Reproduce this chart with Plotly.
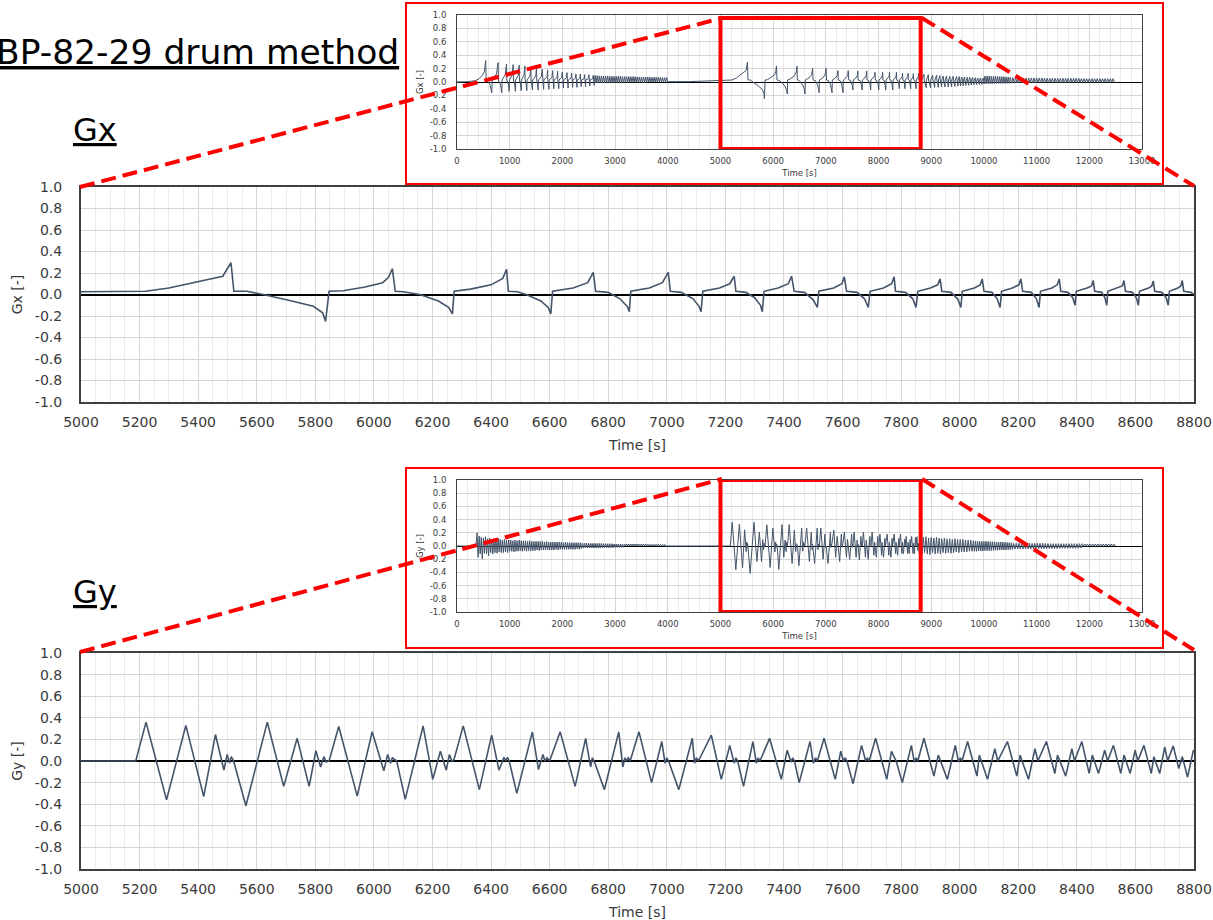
import plotly.graph_objects as go

# ---------------- data ----------------
big_x_ticks = [5000, 5200, 5400, 5600, 5800, 6000, 6200, 6400, 6600, 6800, 7000,
               7200, 7400, 7600, 7800, 8000, 8200, 8400, 8600, 8800]
ov_x_ticks = [0, 1000, 2000, 3000, 4000, 5000, 6000, 7000, 8000, 9000, 10000,
              11000, 12000, 13000]
y_ticks = [-1.0, -0.8, -0.6, -0.4, -0.2, 0.0, 0.2, 0.4, 0.6, 0.8, 1.0]
y_tick_text = ["-1.0", "-0.8", "-0.6", "-0.4", "-0.2", "0.0", "0.2", "0.4", "0.6", "0.8", "1.0"]

# Gx, detail 5000-8800 s
gx_zoom_t = [5000, 5220, 5300, 5383, 5484, 5512, 5522, 5566, 5622, 5720, 5793, 5825, 5835,
             5847, 5895, 5970, 6030, 6050, 6063, 6073, 6100, 6157, 6220, 6255, 6268,
             6274, 6330, 6400, 6440, 6453, 6459, 6490, 6520, 6570, 6595, 6604,
             6610, 6680, 6730, 6749, 6757, 6800, 6840, 6865, 6872,
             6877, 6940, 6985, 7005, 7012, 7050, 7090, 7110, 7117,
             7123, 7180, 7215, 7230, 7236, 7270, 7300, 7320, 7326,
             7332, 7380, 7415, 7426, 7435, 7470, 7500, 7514,
             7519, 7570, 7598, 7606, 7614, 7650, 7675, 7688,
             7694, 7740, 7768, 7776, 7781, 7815, 7840, 7851,
             7857, 7900, 7925, 7933, 7939, 7970, 7993, 8004,
             8009, 8050, 8070, 8077, 8083, 8110, 8128, 8138,
             8143, 8180, 8202, 8209, 8215, 8245, 8262, 8271,
             8276, 8315, 8333, 8340, 8345, 8370, 8386, 8394,
             8398, 8435, 8450, 8456, 8461, 8485, 8496, 8502,
             8506, 8540, 8555, 8561, 8566, 8590, 8603, 8610,
             8614, 8645, 8656, 8661, 8666, 8690, 8705, 8712,
             8716, 8745, 8755, 8760, 8765, 8790, 8800]
gx_zoom_v = [0.025, 0.03, 0.06, 0.11, 0.17, 0.295, 0.03, 0.03, 0.0, -0.06, -0.11, -0.17, -0.25,
             0.03, 0.035, 0.07, 0.11, 0.16, 0.24, 0.03, 0.025, 0.0, -0.06, -0.12, -0.18,
             0.03, 0.05, 0.09, 0.15, 0.235, 0.03, 0.025, 0.0, -0.06, -0.12, -0.18,
             0.03, 0.06, 0.11, 0.205, 0.03, 0.02, -0.04, -0.11, -0.16,
             0.03, 0.06, 0.11, 0.205, 0.03, 0.02, -0.04, -0.11, -0.16,
             0.03, 0.06, 0.1, 0.17, 0.03, 0.02, -0.03, -0.1, -0.16,
             0.03, 0.06, 0.1, 0.17, 0.03, 0.02, -0.05, -0.12,
             0.03, 0.06, 0.1, 0.165, 0.03, 0.02, -0.04, -0.12,
             0.03, 0.06, 0.1, 0.165, 0.03, 0.02, -0.04, -0.12,
             0.03, 0.06, 0.09, 0.145, 0.03, 0.02, -0.04, -0.12,
             0.03, 0.06, 0.09, 0.145, 0.03, 0.02, -0.04, -0.12,
             0.03, 0.06, 0.09, 0.145, 0.03, 0.02, -0.04, -0.12,
             0.03, 0.06, 0.09, 0.145, 0.03, 0.02, -0.03, -0.1,
             0.03, 0.06, 0.08, 0.13, 0.03, 0.02, -0.03, -0.1,
             0.03, 0.06, 0.08, 0.13, 0.03, 0.02, -0.03, -0.1,
             0.03, 0.06, 0.08, 0.125, 0.03, 0.02, -0.03, -0.1,
             0.03, 0.06, 0.08, 0.13, 0.03, 0.02, 0.0]

# Gy, detail 5000-8800 s
gy_zoom_t = [5000, 5187, 5222, 5292, 5358, 5419, 5459, 5488, 5499, 5507, 5513, 5521,
             5563, 5636, 5692, 5738, 5779, 5802, 5818, 5829, 5837, 5847,
             5880, 5943, 5994, 6034, 6047, 6057, 6063, 6078,
             6107, 6168, 6201, 6227, 6247, 6258, 6266, 6273,
             6305, 6360, 6402, 6427, 6444, 6450, 6456, 6462,
             6488, 6541, 6562, 6577, 6584, 6591, 6600,
             6636, 6687, 6723, 6740, 6746, 6752,
             6787, 6836, 6850, 6857, 6862, 6869, 6875,
             6905, 6948, 6983, 6994, 7000, 7006,
             7041, 7087, 7095, 7101, 7108,
             7152, 7186, 7215, 7230, 7236, 7242,
             7262, 7294, 7306, 7312, 7318,
             7351, 7391, 7411, 7424, 7430, 7436,
             7452, 7489, 7500, 7508, 7514,
             7537, 7575, 7594, 7603, 7609, 7615,
             7636, 7665, 7679, 7685, 7691,
             7713, 7751, 7767, 7783,
             7804, 7835, 7845, 7851, 7857,
             7878, 7912, 7927, 7958, 7985, 7996, 8002, 8008,
             8027, 8059, 8067, 8095, 8120, 8130,
             8163, 8195, 8206, 8235, 8257, 8267,
             8296, 8325, 8334, 8362, 8383, 8392,
             8417, 8442, 8453, 8474, 8495, 8505,
             8525, 8550, 8561, 8582, 8599, 8608,
             8629, 8654, 8663, 8683, 8700, 8710,
             8729, 8748, 8760, 8778, 8798, 8800]
gy_zoom_v = [0.0, 0.0, 0.36, -0.36, 0.33, -0.33, 0.245, -0.085, 0.06, -0.02, 0.04, 0.0,
             -0.415, 0.36, -0.235, 0.21, -0.235, 0.095, -0.055, 0.04, -0.01, 0.0,
             0.32, -0.325, 0.27, -0.09, 0.06, -0.02, 0.03, 0.0,
             -0.355, 0.325, -0.17, 0.09, -0.085, 0.06, 0.0, 0.01,
             0.325, -0.265, 0.24, -0.085, 0.035, 0.0, 0.035, 0.0,
             -0.3, 0.27, -0.08, 0.06, 0.0, 0.03, 0.0,
             0.27, -0.235, 0.21, -0.055, 0.03, 0.0,
             -0.265, 0.27, -0.055, 0.03, 0.0, 0.03, 0.0,
             0.27, -0.2, 0.18, -0.02, 0.03, 0.0,
             -0.265, 0.21, -0.02, 0.03, 0.0,
             0.24, -0.17, 0.145, -0.02, 0.03, 0.0,
             -0.235, 0.18, -0.02, 0.03, 0.0,
             0.21, -0.17, 0.1, -0.01, 0.03, 0.0,
             -0.2, 0.18, -0.02, 0.03, 0.0,
             0.21, -0.17, 0.09, 0.0, 0.03, 0.0,
             -0.21, 0.145, 0.0, 0.03, 0.0,
             0.21, -0.17, 0.09, 0.0,
             -0.2, 0.145, -0.01, 0.03, 0.0,
             0.21, -0.14, 0.055, -0.17, 0.145, -0.01, 0.03, 0.0,
             0.18, -0.14, 0.055, -0.17, 0.115, 0.0,
             0.18, -0.14, 0.055, -0.17, 0.115, 0.0,
             0.18, -0.115, 0.055, -0.14, 0.115, 0.0,
             0.18, -0.115, 0.055, -0.115, 0.1, 0.0,
             0.145, -0.115, 0.055, -0.115, 0.1, 0.0,
             0.145, -0.115, 0.04, -0.115, 0.13, 0.0,
             0.14, -0.07, 0.04, -0.15, 0.1, 0.09]

# Gx, overview part 0-5000 s
gx_early_t = [0, 200, 350, 420, 480, 520, 545, 552, 590, 630, 660,
              668, 750, 780, 786, 825, 850,
              856, 915, 940, 945, 975, 990,
              995, 1045, 1066, 1071, 1095, 1108,
              1112, 1162, 1180, 1185, 1206, 1218,
              1222, 1272, 1288, 1293, 1313, 1325,
              1329, 1385, 1402, 1406, 1422, 1432,
              1436, 1494, 1510, 1514, 1530, 1540,
              1544, 1602, 1617, 1621, 1636, 1645,
              1649, 1707, 1720, 1724, 1737, 1745,
              1749, 1803, 1815, 1819, 1831, 1838,
              1842, 1898, 1910, 1914, 1925, 1932,
              1936, 1988, 1998, 2002, 2013, 2020,
              2024, 2077, 2086, 2090, 2101, 2108,
              2112, 2165, 2175, 2179, 2189, 2195,
              2199, 2248, 2257, 2261, 2271, 2277,
              2281, 2331, 2340, 2344, 2353, 2358,
              2362, 2413, 2422, 2426, 2435, 2440,
              2444, 2495, 2504, 2508, 2517, 2522,
              2526, 2577, 2585, 2589, 2597, 2603,
              2620, 2640, 2660, 2680, 2700, 2720, 2740, 2760, 2780, 2800,
              2820, 2840, 2860, 2880, 2900, 2920, 2940, 2960, 2980, 3000,
              3020, 3040, 3060, 3080, 3100, 3120, 3140, 3160, 3180, 3200,
              3220, 3240, 3260, 3280, 3300, 3320, 3340, 3360, 3380, 3400,
              3420, 3440, 3460, 3480, 3500, 3520, 3540, 3560, 3580, 3600,
              3620, 3640, 3660, 3680, 3700, 3720, 3740, 3760, 3780, 3800,
              3820, 3840, 3860, 3880, 3900, 3920, 3940, 3960, 3980,
              4000, 4400, 4800, 4990]
gx_early_v = [0.0, 0.005, 0.02, 0.05, 0.1, 0.16, 0.32, 0.03, 0.01, -0.05, -0.16,
              0.03, 0.12, 0.29, 0.03, -0.04, -0.16,
              0.03, 0.11, 0.27, 0.03, -0.03, -0.14,
              0.03, 0.1, 0.26, 0.03, -0.03, -0.14,
              0.03, 0.1, 0.25, 0.03, -0.03, -0.13,
              0.03, 0.1, 0.24, 0.03, -0.03, -0.13,
              0.03, 0.09, 0.22, 0.03, -0.03, -0.12,
              0.03, 0.09, 0.21, 0.03, -0.03, -0.12,
              0.03, 0.08, 0.19, 0.03, -0.03, -0.11,
              0.03, 0.08, 0.18, 0.03, -0.03, -0.11,
              0.03, 0.07, 0.17, 0.03, -0.03, -0.1,
              0.03, 0.07, 0.16, 0.03, -0.03, -0.1,
              0.03, 0.07, 0.15, 0.03, -0.02, -0.09,
              0.03, 0.06, 0.14, 0.03, -0.02, -0.09,
              0.03, 0.06, 0.13, 0.03, -0.02, -0.08,
              0.03, 0.06, 0.12, 0.03, -0.02, -0.08,
              0.03, 0.06, 0.12, 0.03, -0.02, -0.07,
              0.03, 0.05, 0.11, 0.03, -0.02, -0.07,
              0.03, 0.05, 0.11, 0.03, -0.02, -0.06,
              0.03, 0.05, 0.1, 0.03, -0.02, -0.05,
              0.095, -0.015, 0.095, -0.015, 0.09, -0.015, 0.09, -0.015, 0.09, -0.015,
              0.09, -0.01, 0.09, -0.01, 0.085, -0.01, 0.085, -0.01, 0.085, -0.01,
              0.085, -0.01, 0.085, -0.01, 0.085, -0.01, 0.08, -0.01, 0.08, -0.01,
              0.08, -0.01, 0.08, -0.005, 0.08, -0.005, 0.08, -0.005, 0.08, -0.005,
              0.075, -0.005, 0.075, -0.005, 0.075, -0.005, 0.075, -0.005, 0.075, -0.005,
              0.075, 0.0, 0.07, 0.0, 0.07, 0.0, 0.07, 0.0, 0.07, 0.0,
              0.07, 0.0, 0.07, 0.0, 0.065, 0.0, 0.065, 0.0, 0.065,
              0.005, 0.005, 0.012, 0.02]

# Gx, overview part 8800-12500 s
gx_late_t = [8863, 8867, 8905, 8908, 8945, 8949, 8987, 8990,
             9027, 9031, 9066, 9069, 9103, 9107, 9135, 9138,
             9166, 9170, 9198, 9201, 9229, 9233, 9261, 9264,
             9292, 9296, 9324, 9327, 9355, 9359, 9387, 9390,
             9418, 9422, 9450, 9453, 9482, 9486, 9507, 9510,
             9532, 9536, 9558, 9561, 9583, 9587, 9608, 9611,
             9633, 9637, 9659, 9662, 9684, 9688, 9710, 9713,
             9735, 9739, 9760, 9763, 9785, 9789, 9811, 9814,
             9836, 9840, 9862, 9865, 9887, 9891, 9912, 9915,
             9937, 9941, 9962, 9965, 9988, 9992, 10003, 10006,
             10020, 10040, 10060, 10080, 10100, 10120, 10140, 10160, 10180, 10200,
             10220, 10240, 10260, 10280, 10300, 10320, 10340, 10360, 10380, 10400,
             10420, 10440, 10460, 10480, 10500,
             10525, 10550, 10575, 10600, 10625, 10650, 10675, 10700, 10725, 10750,
             10775, 10800, 10825, 10850, 10875, 10900, 10925, 10950, 10975, 11000,
             11025, 11050, 11075, 11100, 11125, 11150, 11175, 11200, 11225, 11250,
             11275, 11300, 11325, 11350, 11375, 11400, 11425, 11450, 11475, 11500,
             11525, 11550, 11575, 11600, 11625, 11650, 11675, 11700, 11725, 11750,
             11775, 11800, 11825, 11850, 11875, 11900, 11925, 11950, 11975, 12000,
             12025, 12050, 12075, 12100, 12125, 12150, 12175, 12200, 12225, 12250,
             12275, 12300, 12325, 12350, 12375, 12400, 12425, 12450, 12475, 12490]
gx_late_v = [0.115, 0.03, -0.085, 0.03, 0.11, 0.03, -0.085, 0.03,
             0.1, 0.03, -0.08, 0.03, 0.1, 0.03, -0.08, 0.03,
             0.095, 0.03, -0.075, 0.03, 0.09, 0.03, -0.075, 0.03,
             0.09, 0.03, -0.07, 0.03, 0.085, 0.03, -0.07, 0.03,
             0.085, 0.03, -0.065, 0.03, 0.08, 0.03, -0.06, 0.03,
             0.08, 0.03, -0.06, 0.03, 0.075, 0.03, -0.055, 0.03,
             0.075, 0.03, -0.05, 0.03, 0.07, 0.03, -0.05, 0.03,
             0.07, 0.03, -0.045, 0.03, 0.065, 0.03, -0.04, 0.03,
             0.065, 0.03, -0.04, 0.03, 0.06, 0.03, -0.035, 0.03,
             0.06, 0.03, -0.035, 0.03, 0.06, 0.03, -0.03, 0.03,
             0.09, -0.025, 0.09, -0.025, 0.09, -0.025, 0.085, -0.025, 0.085, -0.025,
             0.085, -0.02, 0.085, -0.02, 0.08, -0.02, 0.08, -0.02, 0.08, -0.02,
             0.075, -0.02, 0.075, -0.02, 0.07,
             -0.015, 0.065, -0.015, 0.065, -0.015, 0.06, -0.015, 0.06, -0.015, 0.06,
             -0.015, 0.06, -0.015, 0.06, -0.015, 0.06, -0.015, 0.06, -0.015, 0.06,
             -0.01, 0.06, -0.01, 0.06, -0.01, 0.055, -0.01, 0.055, -0.01, 0.055,
             -0.01, 0.055, -0.01, 0.055, -0.01, 0.055, -0.01, 0.055, -0.01, 0.055,
             -0.01, 0.055, -0.01, 0.055, -0.01, 0.055, -0.01, 0.055, -0.01, 0.055,
             -0.005, 0.055, -0.005, 0.05, -0.005, 0.05, -0.005, 0.05, -0.005, 0.05,
             -0.005, 0.05, -0.005, 0.05, -0.005, 0.05, -0.005, 0.05, -0.005, 0.05,
             -0.005, 0.05, -0.005, 0.05, -0.005, 0.05, -0.005, 0.05, -0.005, 0.0]

# Gy, overview part 0-5000 s
gy_early_t = [0, 360,
              380, 400, 420, 440, 460, 480, 500, 520, 540, 560,
              580, 600, 620, 640, 660, 680, 700, 720, 740, 760,
              780, 800, 820, 840, 860, 880, 900, 920, 940, 960,
              980, 1000,
              1020, 1040, 1060, 1080, 1100, 1120, 1140, 1160, 1180, 1200,
              1220, 1240, 1260, 1280, 1300, 1320, 1340, 1360, 1380, 1400,
              1420, 1440, 1460, 1480, 1500, 1520, 1540, 1560, 1580, 1600,
              1620, 1640, 1660, 1680, 1700, 1720, 1740, 1760, 1780, 1800,
              1820, 1840, 1860, 1880, 1900, 1920, 1940, 1960, 1980, 2000,
              2020, 2040, 2060, 2080, 2100, 2120, 2140, 2160, 2180, 2200,
              2220, 2240, 2260, 2280, 2300, 2320, 2340, 2360,
              2380, 2400, 2420, 2440, 2460, 2480, 2500, 2520, 2540, 2560,
              2580, 2600, 2620, 2640, 2660, 2680, 2700, 2720, 2740, 2760,
              2780, 2800, 2820, 2840, 2860, 2880, 2900, 2920, 2940, 2960,
              2980, 3000, 3020, 3040, 3060, 3080, 3100, 3120, 3140, 3160,
              3180,
              3200, 3220, 3240, 3260, 3280, 3300, 3320, 3340, 3360, 3380,
              3400, 3420, 3440, 3460, 3480, 3500, 3520, 3540, 3560, 3580,
              3600, 3620, 3640, 3660, 3680, 3700, 3720, 3740, 3760, 3780,
              3800, 3820, 3840, 3860, 3880, 3900, 3920, 3940,
              3960, 4990]
gy_early_v = [0.0, 0.0,
              0.2, -0.17, 0.15, -0.12, 0.13, -0.2, 0.12, -0.11, 0.14, -0.12,
              0.11, -0.15, 0.12, -0.1, 0.1, -0.12, 0.11, -0.1, 0.1, -0.11,
              0.12, -0.09, 0.1, -0.1, 0.09, -0.1, 0.1, -0.09, 0.09, -0.1,
              0.09, -0.08,
              0.09, -0.08, 0.08, -0.09, 0.09, -0.08, 0.08, -0.08, 0.09, -0.07,
              0.08, -0.08, 0.08, -0.07, 0.08, -0.08, 0.07, -0.07, 0.08, -0.07,
              0.07, -0.07, 0.07, -0.07, 0.07, -0.06, 0.07, -0.07, 0.07, -0.06,
              0.07, -0.06, 0.06, -0.06, 0.07, -0.06, 0.06, -0.06, 0.06, -0.06,
              0.06, -0.06, 0.06, -0.05, 0.06, -0.06, 0.06, -0.05, 0.06, -0.05,
              0.05, -0.05, 0.06, -0.05, 0.05, -0.05, 0.05, -0.05, 0.05, -0.05,
              0.05, -0.05, 0.05, -0.04, 0.05, -0.05, 0.05, -0.04,
              0.045, -0.03, 0.045, -0.03, 0.045, -0.03, 0.04, -0.03, 0.04, -0.03,
              0.04, -0.03, 0.04, -0.03, 0.04, -0.03, 0.04, -0.03, 0.04, -0.03,
              0.035, -0.025, 0.035, -0.025, 0.035, -0.025, 0.035, -0.025, 0.035, -0.025,
              0.03, -0.02, 0.03, -0.02, 0.03, -0.02, 0.03, -0.02, 0.03, -0.02,
              0.03,
              0.0, 0.03, 0.0, 0.03, 0.0, 0.03, 0.0, 0.03, 0.0, 0.03,
              0.0, 0.03, 0.0, 0.03, 0.0, 0.03, 0.0, 0.03, 0.0, 0.03,
              0.0, 0.025, 0.0, 0.025, 0.0, 0.025, 0.0, 0.025, 0.0, 0.025,
              0.0, 0.025, 0.0, 0.025, 0.0, 0.025, 0.0, 0.025,
              0.0, 0.0]

# Gy, overview part 8800-12500 s
gy_late_t = [8825, 8850, 8875, 8900, 8925, 8950, 8975, 9000, 9025, 9050,
             9075, 9100, 9125, 9150, 9175, 9200, 9225, 9250, 9275, 9300,
             9325, 9350, 9375, 9400, 9425, 9450, 9475, 9500, 9525, 9550,
             9575, 9600, 9625, 9650, 9675, 9700, 9725, 9750, 9775, 9800,
             9820, 9840, 9860, 9880, 9900, 9920, 9940, 9960, 9980, 10000,
             10020, 10040, 10060, 10080, 10100, 10120, 10140, 10160, 10180, 10200,
             10220, 10240, 10260, 10280, 10300, 10320, 10340, 10360, 10380, 10400,
             10420, 10440, 10460, 10480, 10500, 10520, 10540,
             10565, 10590, 10615, 10640, 10665, 10690, 10715, 10740, 10765, 10790,
             10815, 10840, 10865, 10890, 10915, 10940, 10965, 10990, 11015, 11040,
             11065, 11090, 11115, 11140, 11165, 11190, 11215, 11240, 11265, 11290,
             11315, 11340, 11365, 11390, 11415, 11440, 11465, 11490, 11515, 11540,
             11565, 11590, 11615, 11640, 11665, 11690, 11715, 11740, 11765, 11790,
             11815, 11840, 11865,
             11890, 11915, 11940, 11965, 11990, 12015, 12040, 12065, 12090, 12115,
             12140, 12165, 12190, 12215, 12240, 12265, 12290, 12315, 12340, 12365,
             12390, 12415, 12440, 12465, 12490]
gy_late_v = [-0.13, 0.13, -0.1, 0.14, -0.12, 0.12, -0.13, 0.13, -0.1, 0.12,
             -0.12, 0.13, -0.11, 0.12, -0.12, 0.11, -0.1, 0.12, -0.11, 0.11,
             -0.1, 0.11, -0.11, 0.1, -0.1, 0.11, -0.09, 0.1, -0.1, 0.1,
             -0.09, 0.1, -0.09, 0.09, -0.09, 0.09, -0.08, 0.09, -0.08, 0.08,
             -0.08, 0.075, -0.08, 0.075, -0.075, 0.07, -0.075, 0.07, -0.075, 0.07,
             -0.07, 0.07, -0.07, 0.07, -0.07, 0.065, -0.07, 0.065, -0.065, 0.065,
             -0.065, 0.06, -0.065, 0.06, -0.06, 0.06, -0.06, 0.06, -0.06, 0.055,
             -0.06, 0.055, -0.055, 0.05, -0.055, 0.05, -0.05,
             0.04, -0.045, 0.04, -0.045, 0.04, -0.045, 0.04, -0.045, 0.04, -0.045,
             0.04, -0.045, 0.04, -0.045, 0.04, -0.04, 0.04, -0.04, 0.04, -0.04,
             0.04, -0.04, 0.04, -0.04, 0.04, -0.04, 0.035, -0.04, 0.035, -0.04,
             0.035, -0.04, 0.035, -0.04, 0.035, -0.035, 0.035, -0.035, 0.035, -0.035,
             0.035, -0.035, 0.035, -0.035, 0.035, -0.035, 0.035, -0.035, 0.035, -0.035,
             0.035, -0.03, 0.035,
             0.0, 0.03, 0.0, 0.03, 0.0, 0.03, 0.0, 0.03, 0.0, 0.03,
             0.0, 0.03, 0.0, 0.03, 0.0, 0.03, 0.0, 0.03, 0.0, 0.03,
             0.0, 0.03, 0.0, 0.03, 0.0]

for a, b in [(gx_zoom_t, gx_zoom_v), (gy_zoom_t, gy_zoom_v), (gx_early_t, gx_early_v),
             (gx_late_t, gx_late_v), (gy_early_t, gy_early_v), (gy_late_t, gy_late_v)]:
    assert len(a) == len(b), (len(a), len(b))

# ---------------- figure ----------------
W, H = 1213, 920
def fx(p):
    return p / W
def fy(p):
    return 1 - p / H

LINE = '#44546a'
GRID = '#d6d6d6'
MINOR = '#ebebeb'
AXIS = '#404040'
TXT = '#3a3a3a'
FONT = 'DejaVu Sans'

fig = go.Figure()
fig.add_trace(go.Scatter(x=gx_zoom_t, y=gx_zoom_v, mode='lines', xaxis='x', yaxis='y',
                         line=dict(color=LINE, width=1.6), hoverinfo='skip'))
fig.add_trace(go.Scatter(x=gy_zoom_t, y=gy_zoom_v, mode='lines', xaxis='x2', yaxis='y2',
                         line=dict(color=LINE, width=1.6), hoverinfo='skip'))
fig.add_trace(go.Scatter(x=gx_early_t + gx_zoom_t + gx_late_t,
                         y=gx_early_v + gx_zoom_v + gx_late_v, mode='lines',
                         xaxis='x3', yaxis='y3', line=dict(color=LINE, width=1),
                         hoverinfo='skip'))
fig.add_trace(go.Scatter(x=gy_early_t + gy_zoom_t + gy_late_t,
                         y=gy_early_v + gy_zoom_v + gy_late_v, mode='lines',
                         xaxis='x4', yaxis='y4', line=dict(color=LINE, width=1),
                         hoverinfo='skip'))


def big_x(anchor, standoff):
    return dict(domain=[fx(81), fx(1194)], anchor=anchor, range=[5000, 8800],
                tickmode='array', tickvals=big_x_ticks, ticktext=[str(v) for v in big_x_ticks],
                showgrid=True, gridcolor=GRID, gridwidth=1.2,
                minor=dict(tickmode='linear', tick0=5000, dtick=50, showgrid=True,
                           gridcolor=MINOR, gridwidth=1, ticks=''),
                showline=True, linecolor=AXIS, linewidth=2, mirror=True, zeroline=False,
                ticks='', tickfont=dict(family=FONT, size=14, color=TXT),
                ticklabelstandoff=6, automargin=False,
                title=dict(text='Time [s]', font=dict(family=FONT, size=14, color=TXT),
                           standoff=standoff))


def big_y(anchor, dom, label):
    return dict(domain=dom, anchor=anchor, range=[-1, 1], tickmode='array',
                tickvals=y_ticks, ticktext=y_tick_text, showgrid=True, gridcolor=GRID,
                gridwidth=1.2, showline=True, linecolor=AXIS, linewidth=2, mirror=True,
                zeroline=True, zerolinecolor='#000000', zerolinewidth=1.6, ticks='',
                tickfont=dict(family=FONT, size=14, color=TXT), ticklabelstandoff=14,
                automargin=False,
                title=dict(text=label, font=dict(family=FONT, size=14, color=TXT),
                           standoff=9))


def ov_x(anchor):
    return dict(domain=[fx(457), fx(1142)], anchor=anchor, range=[0, 13000],
                tickmode='array', tickvals=ov_x_ticks, ticktext=[str(v) for v in ov_x_ticks],
                showgrid=True, gridcolor=GRID, gridwidth=1,
                minor=dict(tickmode='linear', tick0=0, dtick=200, showgrid=True,
                           gridcolor=MINOR, gridwidth=1, ticks=''),
                showline=True, linecolor=AXIS, linewidth=1, mirror=True, zeroline=False,
                ticks='', tickfont=dict(family=FONT, size=8.5, color=TXT),
                ticklabelstandoff=4, automargin=False,
                title=dict(text='Time [s]', font=dict(family=FONT, size=8.5, color=TXT),
                           standoff=4))


def ov_y(anchor, dom, label):
    return dict(domain=dom, anchor=anchor, range=[-1, 1], tickmode='array',
                tickvals=y_ticks, ticktext=y_tick_text, showgrid=True, gridcolor=GRID,
                gridwidth=1, showline=True, linecolor=AXIS, linewidth=1, mirror=True,
                zeroline=True, zerolinecolor='#000000', zerolinewidth=1, ticks='',
                tickfont=dict(family=FONT, size=8.5, color=TXT), ticklabelstandoff=8,
                automargin=False,
                title=dict(text=label, font=dict(family=FONT, size=8.5, color=TXT),
                           standoff=4))


RED = '#ff0000'
shapes = [
    # overview frames
    dict(type='rect', xref='paper', yref='paper', x0=fx(406), x1=fx(1163), y0=fy(184),
         y1=fy(3), line=dict(color=RED, width=2)),
    dict(type='rect', xref='paper', yref='paper', x0=fx(406), x1=fx(1163), y0=fy(648),
         y1=fy(468), line=dict(color=RED, width=2)),
    # zoom windows
    dict(type='rect', xref='x3', yref='y3', x0=5000, x1=8800, y0=-1.0, y1=0.955,
         line=dict(color=RED, width=4)),
    dict(type='rect', xref='x4', yref='y4', x0=5000, x1=8800, y0=-1.0, y1=1.0,
         line=dict(color=RED, width=4)),
    # dashed connectors
    dict(type='line', xref='paper', yref='paper', x0=fx(80), y0=fy(187), x1=fx(722),
         y1=fy(18), line=dict(color=RED, width=4, dash='15px,7px')),
    dict(type='line', xref='paper', yref='paper', x0=fx(922), y0=fy(18), x1=fx(1194),
         y1=fy(186), line=dict(color=RED, width=4, dash='15px,7px')),
    dict(type='line', xref='paper', yref='paper', x0=fx(80), y0=fy(652), x1=fx(722),
         y1=fy(479), line=dict(color=RED, width=4, dash='15px,7px')),
    dict(type='line', xref='paper', yref='paper', x0=fx(922), y0=fy(479), x1=fx(1194),
         y1=fy(650), line=dict(color=RED, width=4, dash='15px,7px')),
]

annotations = [
    dict(text='<u>BP-82-29 drum method</u>', xref='paper', yref='paper', x=fx(-6), y=fy(52),
         xanchor='left', yanchor='middle', showarrow=False,
         font=dict(family=FONT, size=34.5, color='#000000')),
    dict(text='<u>Gx</u>', xref='paper', yref='paper', x=fx(71), y=fy(130),
         xanchor='left', yanchor='middle', showarrow=False,
         font=dict(family=FONT, size=32, color='#000000')),
    dict(text='<u>Gy</u>', xref='paper', yref='paper', x=fx(71), y=fy(592),
         xanchor='left', yanchor='middle', showarrow=False,
         font=dict(family=FONT, size=32, color='#000000')),
]

fig.update_layout(
    width=W, height=H, margin=dict(l=0, r=0, t=0, b=0),
    paper_bgcolor='white', plot_bgcolor='white', showlegend=False,
    xaxis=big_x('y', 11),
    yaxis=big_y('x', [fy(402), fy(187)], 'Gx [-]'),
    xaxis2=big_x('y2', 12),
    yaxis2=big_y('x2', [fy(869), fy(653)], 'Gy [-]'),
    xaxis3=ov_x('y3'),
    yaxis3=ov_y('x3', [fy(149), fy(15)], 'Gx [-]'),
    xaxis4=ov_x('y4'),
    yaxis4=ov_y('x4', [fy(612), fy(480)], 'Gy [-]'),
    shapes=shapes, annotations=annotations,
)

fig.write_html('out.html', config={'displayModeBar': False},
               post_script="document.body.style.margin='0px';document.body.style.padding='0px';")
